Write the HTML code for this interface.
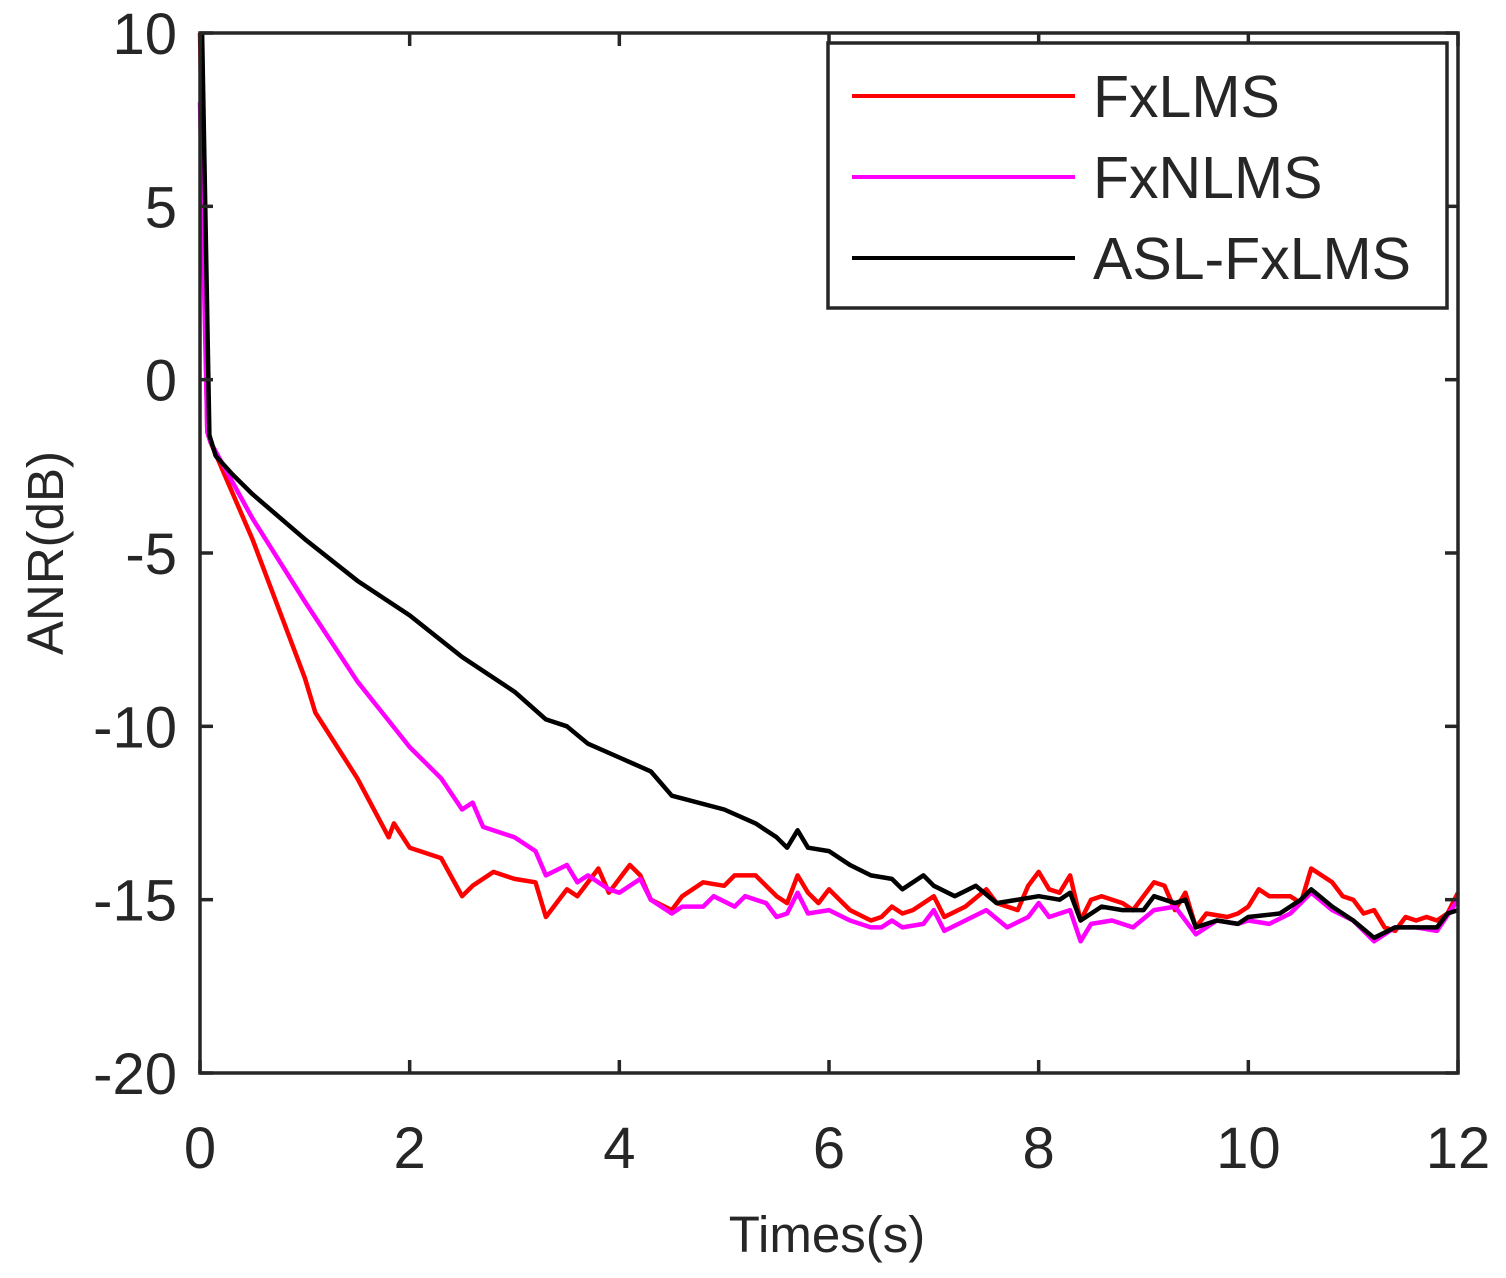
<!DOCTYPE html>
<html><head><meta charset="utf-8"><style>
body{margin:0;background:#fff;}
svg text{font-family:"Liberation Sans",sans-serif;fill:#262626;}
</style></head><body>
<svg id="chart" width="1506" height="1273" viewBox="0 0 1506 1273">
<rect x="0" y="0" width="1506" height="1273" fill="#fff"/>
<g id="series"></g>
<rect x="200" y="33" width="1258" height="1040" fill="none" stroke="#262626" stroke-width="3.5"/>
<g id="ticks"></g>
<text x="827" y="1252" font-size="51" text-anchor="middle">Times(s)</text>
<text transform="translate(63,553) rotate(-90)" font-size="51" text-anchor="middle">ANR(dB)</text>
<g>
<rect x="828" y="43" width="619" height="265" fill="#fff" stroke="#262626" stroke-width="3.5"/>
<line x1="852" y1="96" x2="1075" y2="96" stroke="#ff0000" stroke-width="4"/>
<text x="1093" y="117" font-size="59">FxLMS</text>
<line x1="852" y1="177" x2="1075" y2="177" stroke="#ff00ff" stroke-width="4"/>
<text x="1093" y="198" font-size="59">FxNLMS</text>
<line x1="852" y1="258" x2="1075" y2="258" stroke="#000" stroke-width="4"/>
<text x="1093" y="279" font-size="59">ASL-FxLMS</text>
</g>
</svg>
<script>
const xTicks=[0,2,4,6,8,10,12];
const yTicks=[10,5,0,-5,-10,-15,-20];
const redT=[0,0.07,0.1,0.5,1.0,1.1,1.5,1.8,1.85,2.0,2.3,2.5,2.6,2.8,3.0,3.2,3.3,3.5,3.6,3.8,3.9,4.1,4.2,4.3,4.5,4.6,4.8,5.0,5.1,5.3,5.5,5.6,5.7,5.8,5.9,6.0,6.2,6.4,6.5,6.6,6.7,6.8,7.0,7.1,7.3,7.5,7.6,7.8,7.9,8.0,8.1,8.2,8.3,8.4,8.5,8.6,8.8,8.9,9.0,9.1,9.2,9.3,9.4,9.5,9.6,9.8,9.9,10.0,10.1,10.2,10.4,10.5,10.6,10.7,10.8,10.9,11.0,11.1,11.2,11.3,11.4,11.5,11.6,11.7,11.8,11.9,12.0];
const redV=[10,-1.5,-1.8,-4.6,-8.6,-9.6,-11.5,-13.2,-12.8,-13.5,-13.8,-14.9,-14.6,-14.2,-14.4,-14.5,-15.5,-14.7,-14.9,-14.1,-14.8,-14.0,-14.3,-15.0,-15.3,-14.9,-14.5,-14.6,-14.3,-14.3,-14.9,-15.1,-14.3,-14.8,-15.1,-14.7,-15.3,-15.6,-15.5,-15.2,-15.4,-15.3,-14.9,-15.5,-15.2,-14.7,-15.1,-15.3,-14.6,-14.2,-14.7,-14.8,-14.3,-15.6,-15.0,-14.9,-15.1,-15.3,-14.9,-14.5,-14.6,-15.3,-14.8,-15.8,-15.4,-15.5,-15.4,-15.2,-14.7,-14.9,-14.9,-15.1,-14.1,-14.3,-14.5,-14.9,-15.0,-15.4,-15.3,-15.8,-15.9,-15.5,-15.6,-15.5,-15.6,-15.4,-14.8];
const magT=[0,0.07,0.1,0.5,1.0,1.5,2.0,2.3,2.5,2.6,2.7,3.0,3.2,3.3,3.5,3.6,3.7,3.9,4.0,4.2,4.3,4.5,4.6,4.8,4.9,5.1,5.2,5.4,5.5,5.6,5.7,5.8,6.0,6.2,6.4,6.5,6.6,6.7,6.9,7.0,7.1,7.3,7.5,7.7,7.9,8.0,8.1,8.3,8.4,8.5,8.7,8.9,9.1,9.3,9.5,9.7,9.9,10.0,10.2,10.4,10.6,10.8,11.0,11.2,11.4,11.6,11.8,12.0];
const magV=[8,-1.5,-1.8,-4.0,-6.4,-8.7,-10.6,-11.5,-12.4,-12.2,-12.9,-13.2,-13.6,-14.3,-14.0,-14.5,-14.3,-14.7,-14.8,-14.4,-15.0,-15.4,-15.2,-15.2,-14.9,-15.2,-14.9,-15.1,-15.5,-15.4,-14.8,-15.4,-15.3,-15.6,-15.8,-15.8,-15.6,-15.8,-15.7,-15.3,-15.9,-15.6,-15.3,-15.8,-15.5,-15.1,-15.5,-15.3,-16.2,-15.7,-15.6,-15.8,-15.3,-15.2,-16.0,-15.6,-15.7,-15.6,-15.7,-15.4,-14.8,-15.3,-15.6,-16.2,-15.8,-15.8,-15.9,-15.0];
const blkT=[0.02,0.09,0.15,0.3,0.5,1.0,1.5,2.0,2.5,3.0,3.3,3.5,3.7,4.0,4.3,4.5,5.0,5.3,5.5,5.6,5.7,5.8,6.0,6.2,6.4,6.6,6.7,6.9,7.0,7.2,7.4,7.6,7.8,8.0,8.2,8.3,8.4,8.6,8.8,9.0,9.1,9.3,9.4,9.5,9.7,9.9,10.0,10.3,10.5,10.6,10.8,11.0,11.2,11.4,11.6,11.8,11.9,12.0];
const blkV=[10,-1.6,-2.2,-2.7,-3.3,-4.6,-5.8,-6.8,-8.0,-9.0,-9.8,-10.0,-10.5,-10.9,-11.3,-12.0,-12.4,-12.8,-13.2,-13.5,-13.0,-13.5,-13.6,-14.0,-14.3,-14.4,-14.7,-14.3,-14.6,-14.9,-14.6,-15.1,-15.0,-14.9,-15.0,-14.8,-15.6,-15.2,-15.3,-15.3,-14.9,-15.1,-15.0,-15.8,-15.6,-15.7,-15.5,-15.4,-15.0,-14.7,-15.2,-15.6,-16.1,-15.8,-15.8,-15.8,-15.4,-15.3];
const NS='http://www.w3.org/2000/svg';
const X0=200,X1=1458,Y0=1073,Y1=33;
function sx(t){return X0+(t-0)/(12-0)*(X1-X0);}
function sy(v){return Y0-(v+20)/(30)*(Y0-Y1);}
const tk=document.getElementById('ticks');
xTicks.forEach(t=>{
 const x=sx(t);
 [[Y0,Y0-13],[Y1,Y1+13]].forEach(p=>{const l=document.createElementNS(NS,'line');l.setAttribute('x1',x);l.setAttribute('x2',x);l.setAttribute('y1',p[0]);l.setAttribute('y2',p[1]);l.setAttribute('stroke','#262626');l.setAttribute('stroke-width','3.5');
 
 
 tk.appendChild(l);});
 const tx=document.createElementNS(NS,'text');tx.setAttribute('x',x);tx.setAttribute('y',1168);tx.setAttribute('font-size','58');tx.setAttribute('text-anchor','middle');tx.textContent=t;
 
 
 tk.appendChild(tx);
});
yTicks.forEach(v=>{
 const y=sy(v);
 [[X0,X0+13],[X1,X1-13]].forEach(p=>{const l=document.createElementNS(NS,'line');l.setAttribute('x1',p[0]);l.setAttribute('x2',p[1]);l.setAttribute('y1',y);l.setAttribute('y2',y);l.setAttribute('stroke','#262626');l.setAttribute('stroke-width','3.5');
 
 
 tk.appendChild(l);});
 const tx=document.createElementNS(NS,'text');tx.setAttribute('x',177);tx.setAttribute('y',y+21);tx.setAttribute('font-size','58');tx.setAttribute('text-anchor','end');tx.textContent=v;
 
 
 tk.appendChild(tx);
});
const sg=document.getElementById('series');
function draw(T,V,color,name){
 const p=document.createElementNS(NS,'polyline');
 p.setAttribute('points',T.map((t,i)=>sx(t).toFixed(1)+','+sy(V[i]).toFixed(1)).join(' '));
 p.setAttribute('fill','none');p.setAttribute('stroke',color);p.setAttribute('stroke-width','4.5');p.setAttribute('stroke-linejoin','round');
 
 
 sg.appendChild(p);
}
draw(redT,redV,'#ff0000','fxlms-line');
draw(magT,magV,'#ff00ff','fxnlms-line');
draw(blkT,blkV,'#000000','asl-fxlms-line');
</script>
</body></html>
